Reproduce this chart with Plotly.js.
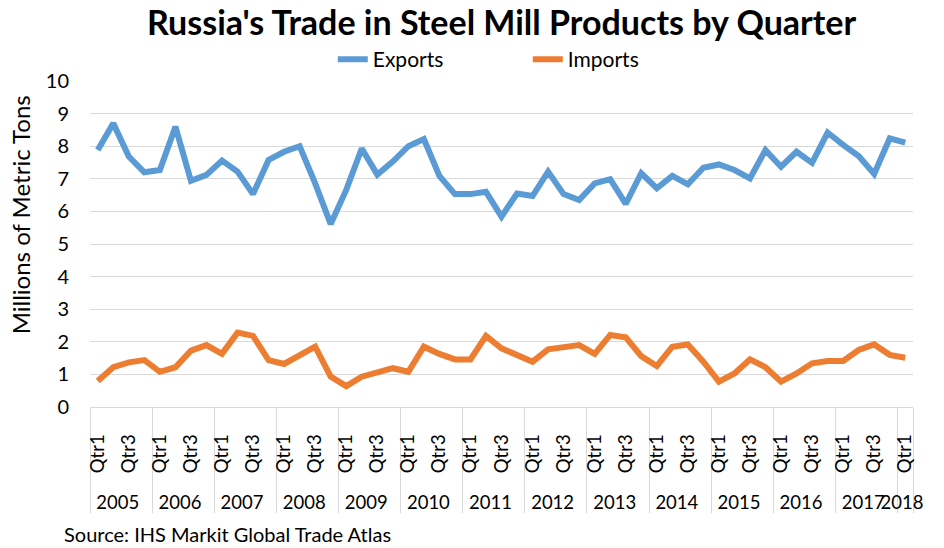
<!DOCTYPE html>
<html>
<head>
<meta charset="utf-8">
<script src="https://cdn.plot.ly/plotly-3.0.1.min.js"></script>
<style>
  html, body { margin: 0; padding: 0; background: #fff; }
  #chart { width: 944px; height: 548px; }
</style>
</head>
<body>
<div id="chart"></div>
<script>
// Years (outer category) and quarter labels (inner category; Qtr2/Qtr4 labels are blank as in the source)
const years = ["2005","2006","2007","2008","2009","2010","2011","2012","2013","2014","2015","2016","2017","2018"];
const quarterLabels = ["Qtr1", " ", "Qtr3", "  "];
const lastYearQuarters = 1;

// Millions of metric tons, 2005 Qtr1 .. 2018 Qtr1
const exportsVals = [7.88,8.70,7.68,7.20,7.27,8.60,6.94,7.12,7.56,7.22,
                     6.53,7.58,7.83,8.00,6.86,5.61,6.66,7.93,7.13,7.53,
                     8.00,8.22,7.09,6.53,6.53,6.60,5.84,6.55,6.47,7.22,
                     6.53,6.35,6.86,6.99,6.23,7.17,6.71,7.09,6.83,7.34,
                     7.44,7.27,7.01,7.88,7.37,7.83,7.49,8.42,8.04,7.70,
                     7.15,8.24,8.11];
const importsVals = [0.80,1.22,1.37,1.44,1.08,1.22,1.73,1.90,1.63,2.28,
                     2.18,1.44,1.32,1.59,1.85,0.93,0.64,0.93,1.05,1.19,
                     1.08,1.85,1.63,1.46,1.46,2.18,1.80,1.60,1.39,1.77,
                     1.85,1.90,1.63,2.21,2.14,1.56,1.26,1.85,1.92,1.39,
                     0.78,1.03,1.46,1.22,0.78,1.03,1.34,1.41,1.41,1.75,
                     1.92,1.60,1.51];

// gap between the axis and the rotated quarter labels
const LABEL_PAD = "\u00A0\u00A0\u00A0\u00A0";

const outer = [], inner = [];
years.forEach((y, yi) => {
  const nq = (yi === years.length - 1) ? lastYearQuarters : 4;
  for (let q = 0; q < nq; q++) { outer.push(y); inner.push(quarterLabels[q] + LABEL_PAD); }
});
const nPts = outer.length;

const FONT = "Lato, 'Open Sans', sans-serif";

const traces = [
  { x: [outer, inner], y: exportsVals, name: "Exports", type: "scatter", mode: "lines",
    line: { color: "#5B9BD5", width: 6, shape: "linear" } },
  { x: [outer, inner], y: importsVals, name: "Imports", type: "scatter", mode: "lines",
    line: { color: "#ED7D31", width: 6, shape: "linear" } }
];

const layout = {
  width: 944, height: 548,
  autosize: false,
  margin: { l: 90, r: 31, t: 81, b: 141, autoexpand: false },
  paper_bgcolor: "#ffffff", plot_bgcolor: "#ffffff",
  font: { family: FONT, color: "#000000", size: 20 },
  title: { text: "<b>Russia's Trade in Steel Mill Products by Quarter</b>",
           font: { family: FONT, size: 34, color: "#000000" },
           x: 0.5, xref: "paper", xanchor: "center", y: 0.958, yref: "container", yanchor: "middle" },
  showlegend: true,
  legend: { orientation: "h", x: 0.295, xanchor: "left",
            y: 1.066, yanchor: "middle", font: { family: FONT, size: 21, color: "#000" },
            entrywidth: 150, entrywidthmode: "pixels",
            bgcolor: "rgba(0,0,0,0)", traceorder: "normal" },
  xaxis: {
    type: "multicategory",
    range: [-0.5, nPts - 0.5],
    tickmode: "linear", tick0: 0, dtick: 1,
    tickangle: -90,
    tickfont: { family: FONT, size: 18.5, color: "#000" },
    showgrid: false,
    showline: true, linecolor: "#d9d9d9", linewidth: 1,
    ticks: "",
    showdividers: true, dividercolor: "#d9d9d9", dividerwidth: 1,
    zeroline: false, automargin: false
  },
  yaxis: {
    range: [0, 10], dtick: 1, tick0: 0,
    showgrid: true, gridcolor: "#d9d9d9", gridwidth: 1,
    zeroline: false, showline: false,
    ticks: "outside", ticklen: 16, tickcolor: "rgba(0,0,0,0)",
    tickfont: { family: FONT, size: 20, color: "#000" },
    automargin: false
  },
  annotations: [
    { text: "Millions of Metric Tons", textangle: -90, xref: "paper", yref: "paper",
      x: -0.085, y: 0.588, xanchor: "center", yanchor: "middle", showarrow: false,
      font: { family: FONT, size: 24, color: "#000" } },
    { text: "Source: IHS Markit Global Trade Atlas", xref: "paper", yref: "paper",
      x: -0.034, y: -0.39, xanchor: "left", yanchor: "middle", showarrow: false,
      font: { family: FONT, size: 20, color: "#000" } }
  ]
};

Plotly.newPlot("chart", traces, layout, { displayModeBar: false, staticPlot: true });
</script>
</body>
</html>
